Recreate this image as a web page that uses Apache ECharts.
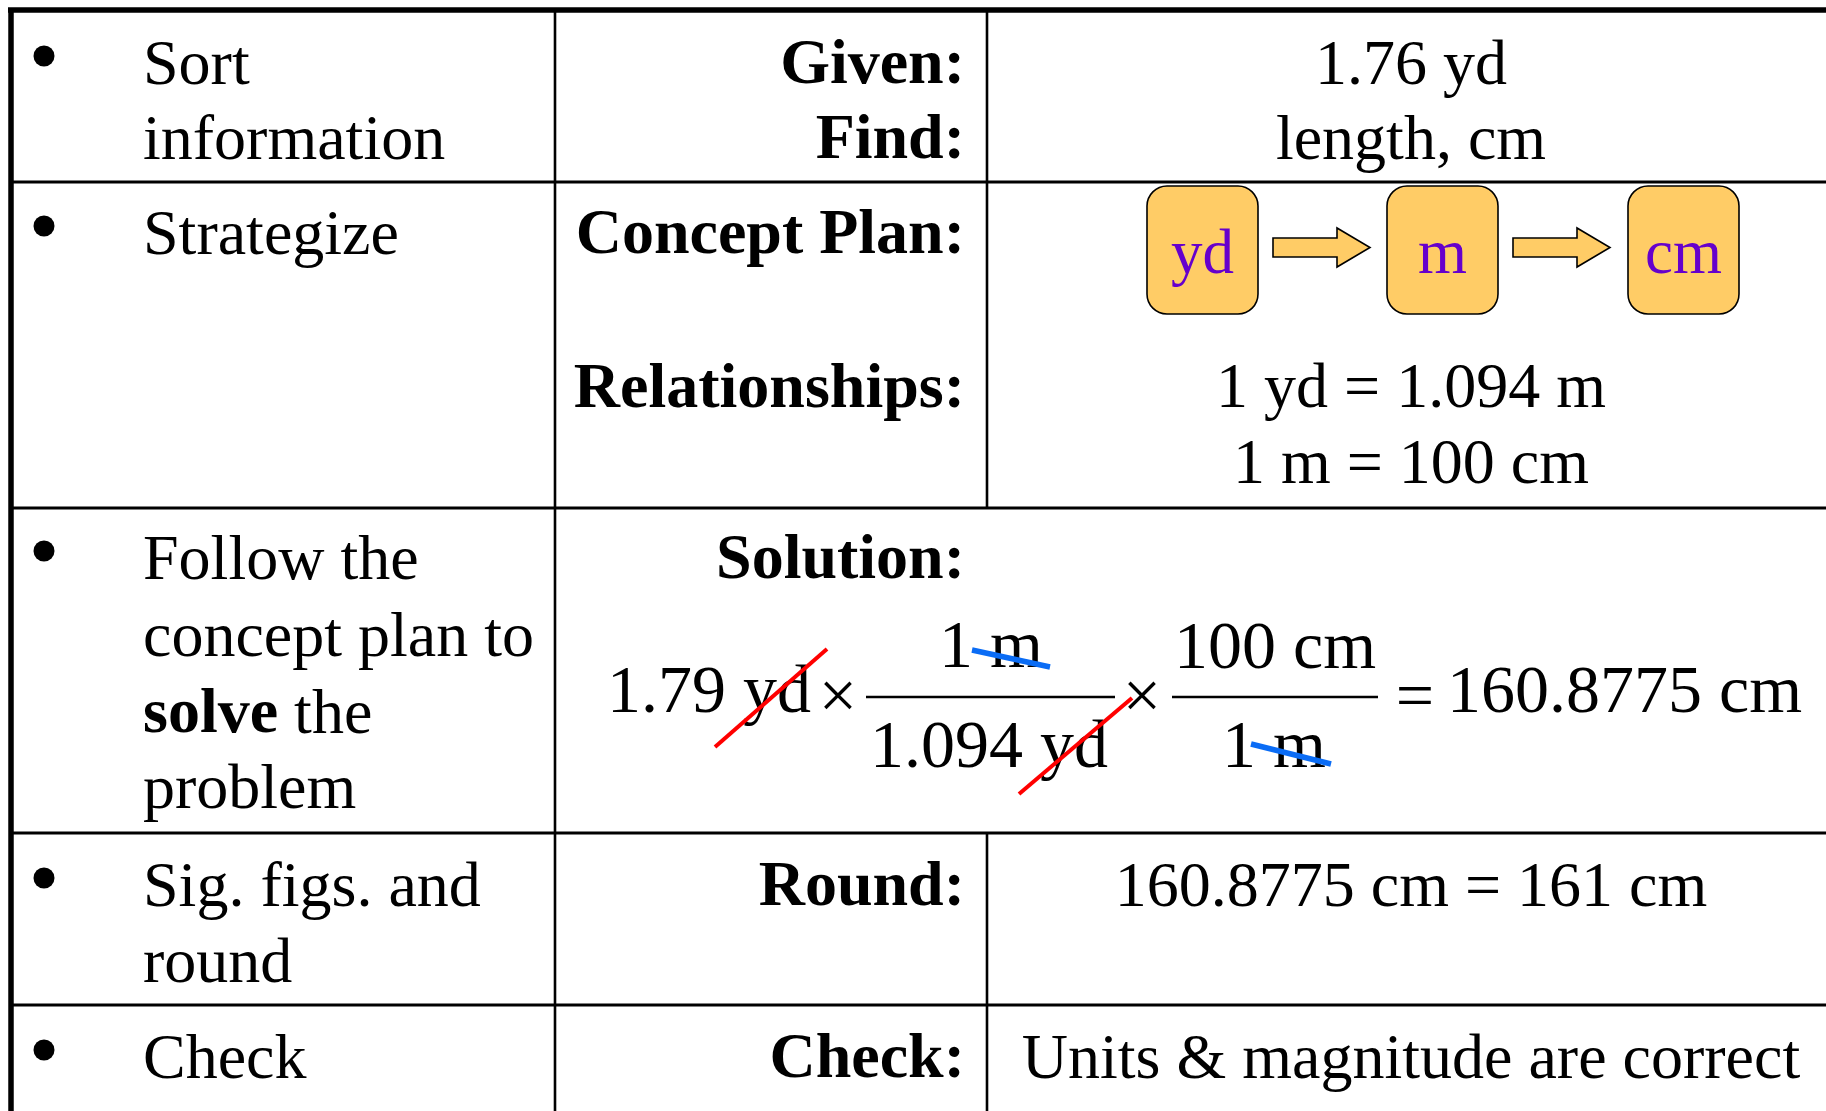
<!DOCTYPE html>
<html>
<head>
<meta charset="utf-8">
<script src="https://cdn.jsdelivr.net/npm/echarts@6/dist/echarts.min.js"></script>
<style>
html,body{margin:0;padding:0;background:#fff;}
#main{width:1826px;height:1111px;}
</style>
</head>
<body>
<div id="main"></div>
<script>
// ---- content ----
const stepTexts = [
  ["Sort", "information"],
  ["Strategize"],
  ["Follow the", "concept plan to", "{b|solve} the", "problem"],
  ["Sig. figs. and", "round"],
  ["Check"]
];
const labelTexts = ["Given:", "Find:", "Concept Plan:", "Relationships:", "Solution:", "Round:", "Check:"];
const valueTexts = ["1.76 yd", "length, cm", "1 yd = 1.094 m", "1 m = 100 cm", "160.8775 cm = 161 cm", "Units & magnitude are correct"];
const planUnits = ["yd", "m", "cm"];
const eqGiven = "1.79 yd";
const eqFactor1 = ["1 m", "1.094 yd"];
const eqFactor2 = ["100 cm", "1 m"];
const eqResult = "160.8775 cm";

// ---- layout ----
const FF = '"Liberation Serif","Times New Roman",serif';
const F = 64, FE = 68;
const MID = 0.27;
const els = [];
function txt(s, x, base, opt) {
  opt = opt || {};
  const fs = opt.size || F;
  const st = {
    text: s, fontSize: fs, fontFamily: FF, fontWeight: opt.bold ? 'bold' : 'normal',
    fill: opt.color || '#000', align: opt.align || 'left', verticalAlign: 'middle'
  };
  if (opt.rich) st.rich = opt.rich;
  els.push({ type: 'text', x: x, y: base - MID * fs, style: st, z: 10 });
}
function line(x1, y1, x2, y2, w, c, z) {
  els.push({ type: 'line', shape: { x1, y1, x2, y2 }, style: { stroke: c || '#000', lineWidth: w, lineCap: 'butt' }, z: z || 5 });
}

// table grid
line(8, 10, 1826, 10, 5.5);
line(11, 8, 11, 1111, 5.5);
[182, 508, 833, 1005].forEach(y => line(11, y, 1826, y, 3));
line(555, 10, 555, 1111, 2.6);
line(987, 10, 987, 508, 2.6);
line(987, 833, 987, 1111, 2.6);

// step column
const stepBase = [[84, 159], [254], [579, 656, 733, 808], [906, 982], [1078]];
const rich = { b: { fontWeight: 'bold', fontSize: F, fontFamily: FF, fill: '#000' } };
stepTexts.forEach((lines, i) => {
  els.push({ type: 'circle', shape: { cx: 44, cy: stepBase[i][0] - 28, r: 10.5 }, style: { fill: '#000' } });
  lines.forEach((s, j) => txt(s, 143, stepBase[i][j], { rich: rich }));
});

// labels
const labelBase = [84, 159, 254, 408, 579, 906, 1078];
labelTexts.forEach((s, i) => txt(s, 965, labelBase[i], { bold: true, align: 'right' }));

// values
const valueBase = [84, 159, 407, 483, 906, 1078];
valueTexts.forEach((s, i) => txt(s, 1411, valueBase[i], { align: 'center' }));

// concept plan
const boxX = [1147, 1387, 1628];
planUnits.forEach((u, i) => {
  els.push({ type: 'rect', shape: { x: boxX[i], y: 186, width: 111, height: 128, r: 20 },
    style: { fill: '#FFCC66', stroke: '#000', lineWidth: 1.6 }, z: 6 });
  txt(u, boxX[i] + 55.5, 273, { align: 'center', color: '#6600CC', size: 63 });
  if (i < planUnits.length - 1) {
    const x0 = boxX[i] + 126, x1 = x0 + 97, xh = x0 + 64;
    els.push({ type: 'polygon', shape: { points: [[x0, 238], [xh, 238], [xh, 228], [x1, 247.5], [xh, 267], [xh, 257], [x0, 257]] },
      style: { fill: '#FFCC66', stroke: '#000', lineWidth: 1.6 }, z: 6 });
  }
});

// equation
txt(eqGiven, 607, 713, { size: FE });
txt("×", 838, 719, { size: FE, align: 'center' });
line(866, 697, 1115, 697, 2.6);
txt(eqFactor1[0], 991, 668, { size: FE, align: 'center' });
txt(eqFactor1[1], 989, 768, { size: FE, align: 'center' });
txt("×", 1142, 719, { size: FE, align: 'center' });
line(1172, 697, 1378, 697, 2.6);
txt(eqFactor2[0], 1275, 669, { size: FE, align: 'center' });
txt(eqFactor2[1], 1274, 768, { size: FE, align: 'center' });
txt("=", 1415, 719, { size: FE, align: 'center' });
txt(eqResult, 1447, 713, { size: FE });
// cancellation strokes
line(715, 747, 827, 649, 4, '#FF0000', 20);
line(1019, 794, 1132, 698, 4, '#FF0000', 20);
line(972, 650, 1050, 667, 5.5, '#0A6CF5', 20);
line(1251, 744, 1331, 764, 5.5, '#0A6CF5', 20);

const chart = echarts.init(document.getElementById('main'), null, { renderer: 'canvas' });
chart.setOption({
  backgroundColor: '#ffffff',
  animation: false,
  graphic: { elements: els }
});
</script>
</body>
</html>
